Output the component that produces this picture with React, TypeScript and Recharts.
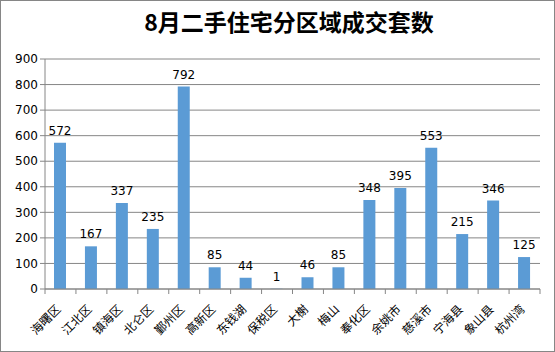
import React from "react";
import { BarChart, Bar, XAxis, YAxis, CartesianGrid, LabelList } from "recharts";

const categories = ["海曙区", "江北区", "镇海区", "北仑区", "鄞州区", "高新区", "东钱湖", "保税区", "大榭", "梅山", "奉化区", "余姚市", "慈溪市", "宁海县", "象山县", "杭州湾"];
const values = [572, 167, 337, 235, 792, 85, 44, 1, 46, 85, 348, 395, 553, 215, 346, 125];
const yTicks = [0, 100, 200, 300, 400, 500, 600, 700, 800, 900];
const title = "8月二手住宅分区域成交套数";

const data = categories.map((name, i) => ({ name, value: values[i] }));

const BAND = 495 / 16;
const AXIS_Y = 289;

const XTick = (props: any) => {
  const { x, payload, index } = props;
  const isLast = index === categories.length - 1;
  const tx = x + 1;
  const ty = AXIS_Y + 21;
  return (
    <g>
      <line x1={x - BAND / 2} y1={AXIS_Y} x2={x - BAND / 2} y2={AXIS_Y + 5} stroke="#868686" />
      {isLast && <line x1={x + BAND / 2} y1={AXIS_Y} x2={x + BAND / 2} y2={AXIS_Y + 5} stroke="#868686" />}
      <text
        x={tx}
        y={ty}
        textAnchor="end"
        transform={`rotate(-45, ${tx}, ${ty})`}
        fontSize={12}
        fill="#000"
        fontFamily="'Noto Sans CJK SC', sans-serif"
      >
        {payload.value}
      </text>
    </g>
  );
};

export default function App() {
  return (
    <div style={{ position: "absolute", left: 0, top: 0, width: 555, height: 352 }}>
      <div style={{ position: "absolute", left: 0, top: 0, width: 553, height: 350, border: "1px solid #868686" }} />
      <div
        style={{
          position: "absolute",
          left: 0,
          top: 6,
          width: 578,
          textAlign: "center",
          fontSize: 23,
          fontWeight: "bold",
          fontFamily: "'Noto Sans CJK SC', 'DejaVu Sans', sans-serif",
          lineHeight: "30px",
          color: "#000",
        }}
      >
        {title}
      </div>
      <div style={{ position: "absolute", left: 0, top: 0 }}>
        <BarChart width={555} height={352} data={data} margin={{ top: 59, right: 15, left: 0, bottom: 0 }}>
          <CartesianGrid vertical={false} stroke="#868686" />
          <XAxis
            dataKey="name"
            stroke="#868686"
            tickLine={false}
            interval={0}
            tick={<XTick />}
            height={63}
          />
          <YAxis
            width={45}
            domain={[0, 900]}
            ticks={yTicks}
            interval={0}
            stroke="#868686"
            tickSize={5}
            tick={{ fill: "#000", fontSize: 12, fontFamily: "'DejaVu Sans', sans-serif" }}
          />
          <Bar dataKey="value" fill="#5B9BD5" barSize={12} isAnimationActive={false}>
            <LabelList dataKey="value" position="top" offset={8} fill="#000" fontSize={12} fontFamily="'DejaVu Sans', sans-serif" />
          </Bar>
        </BarChart>
      </div>
    </div>
  );
}
